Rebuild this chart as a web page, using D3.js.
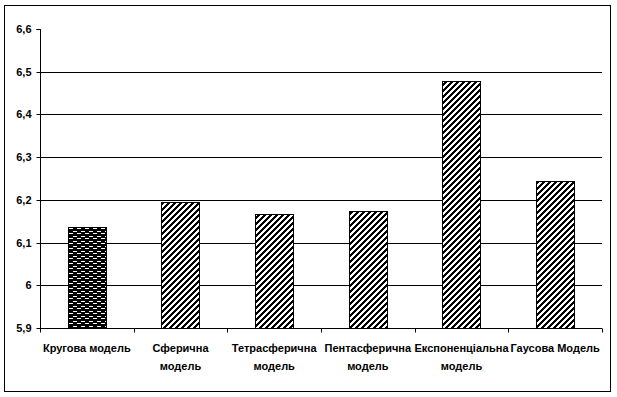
<!DOCTYPE html>
<html><head><meta charset="utf-8">
<script src="https://cdn.jsdelivr.net/npm/d3@7"></script>
<style>
html,body{margin:0;padding:0;background:#fff;}
svg text{font-family:"Liberation Sans",Arial,sans-serif;font-weight:bold;fill:#000;}
</style></head>
<body>
<svg id="chart" width="617" height="397"></svg>
<script>
const categories = ["Кругова модель", "Сферична\nмодель", "Тетрасферична\nмодель", "Пентасферична\nмодель", "Експоненціальна\nмодель", "Гаусова Модель"];
const values = [6.136, 6.196, 6.168, 6.174, 6.479, 6.243];
const patterns = ["dots", "hatch", "hatch", "hatch", "hatch", "hatch"];
const yTicks = [5.9, 6, 6.1, 6.2, 6.3, 6.4, 6.5, 6.6];
const yDomain = [5.9, 6.6];

const svg = d3.select("#chart");
const m = {left: 40, right: 15, top: 29, bottom: 69};
const W = 617, H = 397;

const defs = svg.append("defs");
const hp = defs.append("pattern").attr("id", "hatch").attr("patternUnits", "userSpaceOnUse")
  .attr("width", 6).attr("height", 6);
hp.append("rect").attr("width", 6).attr("height", 6).attr("fill", "#fff");
hp.append("path").attr("d", "M-1,1 l2,-2 M0,6 l6,-6 M5,7 l2,-2")
  .attr("stroke", "#000").attr("stroke-width", 2.2).attr("shape-rendering", "crispEdges");
const dp = defs.append("pattern").attr("id", "dots").attr("patternUnits", "userSpaceOnUse")
  .attr("width", 8).attr("height", 5);
dp.append("rect").attr("width", 8).attr("height", 5).attr("fill", "#000");
dp.append("rect").attr("x", 1).attr("y", 1).attr("width", 4).attr("height", 1).attr("fill", "#fff");
dp.append("rect").attr("x", 5).attr("y", 3).attr("width", 4).attr("height", 1).attr("fill", "#fff");
dp.append("rect").attr("x", -3).attr("y", 3).attr("width", 4).attr("height", 1).attr("fill", "#fff");

// outer border
svg.append("rect").attr("x", 4.5).attr("y", 5.5).attr("width", 606).attr("height", 386)
  .attr("fill", "none").attr("stroke", "#000").attr("stroke-width", 1);

const x = d3.scaleBand().domain(d3.range(categories.length)).range([m.left, W - m.right]).padding(0);
const y = d3.scaleLinear().domain(yDomain).range([H - m.bottom, m.top]);

// gridlines
svg.append("g").selectAll("line").data(yTicks.filter(t => t > yDomain[0] && t < yDomain[1])).join("line")
  .attr("x1", m.left).attr("x2", W - m.right)
  .attr("y1", d => Math.round(y(d)) + 0.5).attr("y2", d => Math.round(y(d)) + 0.5)
  .attr("stroke", "#000");

// bars
const bw = x.bandwidth() * 0.406;
svg.append("g").selectAll("rect").data(values).join("rect")
  .attr("x", (d, i) => Math.round(x(i) + (x.bandwidth() - bw) / 2) + 0.5)
  .attr("y", d => Math.round(y(d)) + 0.5)
  .attr("width", Math.round(bw))
  .attr("height", d => Math.round(y(yDomain[0])) - Math.round(y(d)))
  .attr("fill", (d, i) => `url(#${patterns[i]})`)
  .attr("stroke", "#000").attr("stroke-width", 1);

// y axis
const yAxis = d3.axisLeft(y).tickValues(yTicks).tickSize(4).tickPadding(5)
  .tickFormat(d => String(+d.toFixed(1)).replace(".", ","));
const ya = svg.append("g").attr("transform", `translate(${m.left + 0.5},0.5)`).call(yAxis);
ya.select(".domain").attr("d", `M-4,${Math.round(y(yDomain[1]))}H0V${Math.round(y(yDomain[0]))}`).attr("stroke", "#000");
ya.selectAll(".tick line").attr("stroke", "#000");
ya.selectAll(".tick").attr("transform", d => `translate(0,${Math.round(y(d))})`);
ya.selectAll("text").attr("font-size", 11).attr("font-family", "Liberation Sans, Arial, sans-serif").attr("font-weight", "bold");

// x axis
const xb = svg.append("g");
const y0 = Math.round(y(yDomain[0])) + 0.5;
xb.append("line").attr("x1", m.left).attr("x2", W - m.right).attr("y1", y0).attr("y2", y0).attr("stroke", "#000");
const bounds = d3.range(categories.length + 1).map(i => i < categories.length ? x(i) : x(i - 1) + x.bandwidth());
xb.selectAll("line.t").data(bounds).join("line").attr("class", "t")
  .attr("x1", d => Math.round(d) + 0.5).attr("x2", d => Math.round(d) + 0.5)
  .attr("y1", y0).attr("y2", y0 + 4).attr("stroke", "#000");
const lab = xb.selectAll("text").data(categories).join("text")
  .attr("text-anchor", "middle").attr("font-size", 11)
  .attr("transform", (d, i) => `translate(${x(i) + x.bandwidth() / 2},352)`);
lab.selectAll("tspan").data(d => d.split("\n")).join("tspan")
  .attr("x", 0).attr("dy", (d, i) => i === 0 ? 0 : 18).text(d => d);
</script>
</body></html>
